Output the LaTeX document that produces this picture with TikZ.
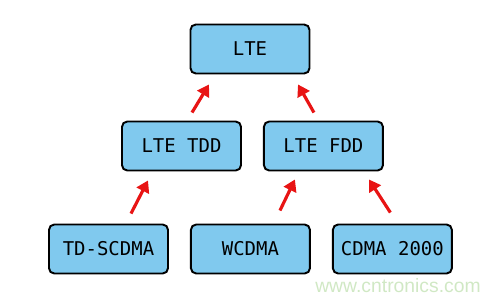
\documentclass[tikz,border=0pt]{standalone}
\usepackage{fontspec}
\setmonofont{DejaVu Sans Mono}
\newfontfamily\wmfont{Liberation Sans}
\usepackage{tikz}
\usetikzlibrary{positioning,arrows.meta}
\usepackage{xcolor}
\definecolor{boxblue}{RGB}{128,201,238}
\definecolor{arrred}{RGB}{232,20,20}
\definecolor{wmgreen}{RGB}{208,232,196}

\begin{document}
\begin{tikzpicture}[x=0.2mm, y=-0.2mm,
      node distance=4mm and 4.2mm,
      box/.style={draw, fill=boxblue, line width=1.1pt, rounded corners=3pt, align=center,
                  minimum width=23.8mm, minimum height=9.8mm,
                  font=\ttfamily\fontsize{10.8}{13}\selectfont},
      arr/.style={draw=arrred, line width=1.8pt, -{Triangle[length=2.3mm, width=2.7mm]}}]
    \useasboundingbox (0,0) rectangle (500,300);
    \node[box] (lte) at (250,49) {LTE};
    \node[box] (tdd) at (181.5,146) {LTE TDD};
    \node[box, right=of tdd] (fdd) {LTE FDD};
    \node[box] (tdscdma) at (108.5,249) {TD-SCDMA};
    \node[box, right=of tdscdma] (wcdma) {WCDMA};
    \node[box, right=of wcdma] (cdma) {CDMA 2000};
    \draw[arr] ([shift={(10.5,-8)}]tdd.north) -- ([shift={(-41,10)}]lte.south);
    \draw[arr] ([shift={(-9.5,-8)}]fdd.north) -- ([shift={(48,10)}]lte.south);
    \draw[arr] ([shift={(22.5,-10)}]tdscdma.north) -- ([shift={(-33.5,9)}]tdd.south);
    \draw[arr] ([shift={(29.5,-13)}]wcdma.north) -- ([shift={(-28.5,8)}]fdd.south);
    \draw[arr] ([shift={(-2,-11)}]cdma.north) -- ([shift={(45.5,8)}]fdd.south);
    \node[text=wmgreen, font=\wmfont\fontsize{11}{13}\selectfont] (wm) at (398,286) {www.cntronics.com};
  \end{tikzpicture}
\end{document}
